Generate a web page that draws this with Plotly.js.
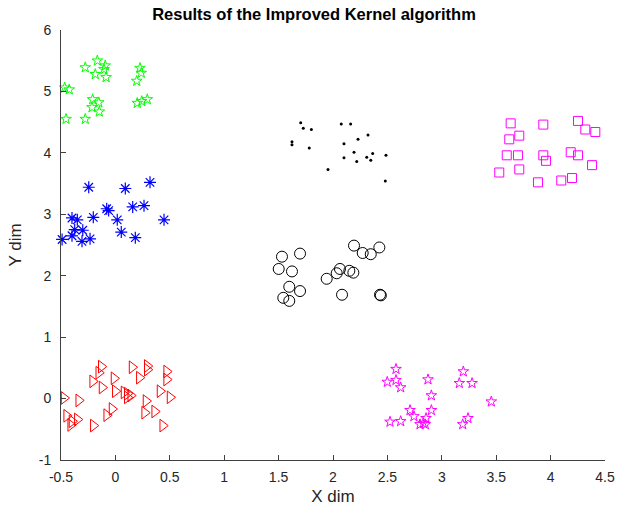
<!DOCTYPE html>
<html>
<head>
<meta charset="utf-8">
<script src="https://cdn.plot.ly/plotly-3.0.1.min.js"></script>
<style>html,body{margin:0;padding:0;background:#fff;}#chart{width:628px;height:512px;}</style>
</head>
<body>
<div id="chart"></div>
<script>
// Cluster 1: green stars
const greenX = [-0.277,-0.166,-0.093,-0.105,-0.185,-0.086,0.226,0.238,0.196,-0.466,-0.424,-0.209,-0.153,-0.215,-0.148,0.201,0.242,0.293,-0.454,-0.277];
const greenY = [5.39,5.50,5.42,5.36,5.28,5.23,5.38,5.30,5.17,5.06,5.03,4.87,4.82,4.74,4.67,4.81,4.84,4.87,4.55,4.55];
// Cluster 2: blue asterisks
const blueX = [-0.245,0.091,0.318,-0.080,-0.062,0.159,0.263,-0.399,-0.350,-0.203,0.017,0.447,-0.374,-0.300,0.054,-0.399,-0.49,-0.307,-0.233,0.183];
const blueY = [3.44,3.42,3.52,3.09,3.06,3.12,3.14,2.94,2.91,2.95,2.91,2.91,2.75,2.74,2.71,2.65,2.59,2.56,2.60,2.62];
// Cluster 3: red triangles
const redX = [-0.130,-0.153,0.153,0.293,0.293,0.220,0.471,0.471,-0.013,-0.209,-0.123,-0.001,0.079,0.109,0.141,0.109,0.410,0.502,-0.472,-0.337,0.281,-0.031,-0.080,0.269,0.361,-0.448,-0.399,-0.350,-0.203,0.435,-0.411];
const redY = [0.52,0.42,0.51,0.53,0.47,0.34,0.44,0.31,0.33,0.28,0.18,0.12,0.10,0.08,0.05,0.02,0.12,0.02,0.01,-0.03,-0.04,-0.17,-0.27,-0.23,-0.21,-0.28,-0.37,-0.34,-0.44,-0.44,-0.43];
// Cluster 4: black dots
const dotX = [1.703,1.727,1.801,1.623,1.623,1.782,2.076,2.162,2.230,2.322,2.101,2.193,2.365,2.101,2.218,2.310,2.347,2.487,1.954,2.481];
const dotY = [4.49,4.40,4.38,4.18,4.13,4.08,4.47,4.47,4.22,4.29,4.15,4.01,3.99,3.92,3.86,3.93,3.88,3.96,3.73,3.54];
// Cluster 5: black circles
const circX = [1.531,1.697,1.501,1.623,1.598,1.697,1.543,1.598,2.193,2.273,2.347,2.426,2.064,2.034,2.150,2.187,1.942,2.083,2.432,2.44];
const circY = [2.31,2.36,2.11,2.07,1.82,1.75,1.64,1.59,2.49,2.37,2.35,2.46,2.11,2.04,2.08,2.05,1.95,1.69,1.69,1.68];
// Cluster 6: magenta stars
const magStarX = [2.579,2.499,2.579,2.622,2.873,2.904,3.198,3.161,3.278,3.455,2.708,2.744,2.904,2.855,2.830,2.800,2.848,2.524,2.622,3.241,3.192];
const magStarY = [0.48,0.27,0.30,0.18,0.31,0.05,0.44,0.25,0.25,-0.05,-0.19,-0.29,-0.19,-0.32,-0.40,-0.42,-0.42,-0.38,-0.37,-0.32,-0.42];
// Cluster 7: magenta squares
const sqX = [3.633,3.933,4.252,4.319,4.411,3.712,3.620,3.597,3.700,3.933,3.958,4.185,4.252,4.381,3.528,3.712,3.884,4.098,4.197];
const sqY = [4.48,4.46,4.52,4.38,4.34,4.28,4.22,3.96,3.96,3.96,3.87,4.01,3.96,3.80,3.68,3.73,3.52,3.55,3.59];

const xTicks = [-0.5,0,0.5,1,1.5,2,2.5,3,3.5,4,4.5];
const yTicks = [-1,0,1,2,3,4,5,6];

function tr(x, y, symbol, color, size, width) {
  return {x: x, y: y, type: 'scatter', mode: 'markers', cliponaxis: false,
    marker: {symbol: symbol, color: color, size: size, line: {color: color, width: width}}};
}
const data = [
  tr(greenX, greenY, 'star-open', '#00ff00', 8, 1),
  tr(blueX, blueY, 'asterisk-open', '#0000ff', 10, 1.2),
  tr(redX, redY, 'triangle-right-open', '#ff0000', 11, 1),
  tr(dotX, dotY, 'circle', '#000000', 3, 0),
  tr(circX, circY, 'circle-open', '#000000', 11, 1),
  tr(magStarX, magStarY, 'star-open', '#ff00ff', 8, 1),
  tr(sqX, sqY, 'square-open', '#ff00ff', 9, 1)
];
const fam = 'Liberation Sans, Arial, sans-serif';
const axFont = {family: fam, size: 14, color: '#262626'};
const layout = {
  width: 628, height: 512,
  margin: {l: 61, r: 23, t: 30, b: 52},
  paper_bgcolor: '#fff', plot_bgcolor: '#fff',
  showlegend: false,
  font: axFont,
  title: {text: '<b>Results of the Improved Kernel algorithm</b>', x: 0.5, xanchor: 'center', y: 0.972, yanchor: 'middle',
    font: {family: fam, size: 16.5, color: '#000'}},
  xaxis: {range: [-0.5, 4.5], tickvals: xTicks, ticktext: xTicks.map(String), ticks: 'inside', ticklen: 5, tickcolor: '#404040',
    ticklabelstandoff: 4, tickfont: axFont,
    showline: true, linecolor: '#404040', linewidth: 1, showgrid: false, zeroline: false, mirror: false,
    title: {text: 'X dim', font: {family: fam, size: 17, color: '#262626'}, standoff: 6}},
  yaxis: {range: [-1, 6], tickvals: yTicks, ticktext: yTicks.map(String), ticks: 'inside', ticklen: 5, tickcolor: '#404040',
    ticklabelstandoff: 6, tickfont: axFont,
    showline: true, linecolor: '#404040', linewidth: 1, showgrid: false, zeroline: false, mirror: false,
    title: {text: 'Y dim', font: {family: fam, size: 17, color: '#262626'}, standoff: 12}}
};
Plotly.newPlot('chart', data, layout, {displayModeBar: false, staticPlot: true});
</script>
</body>
</html>
